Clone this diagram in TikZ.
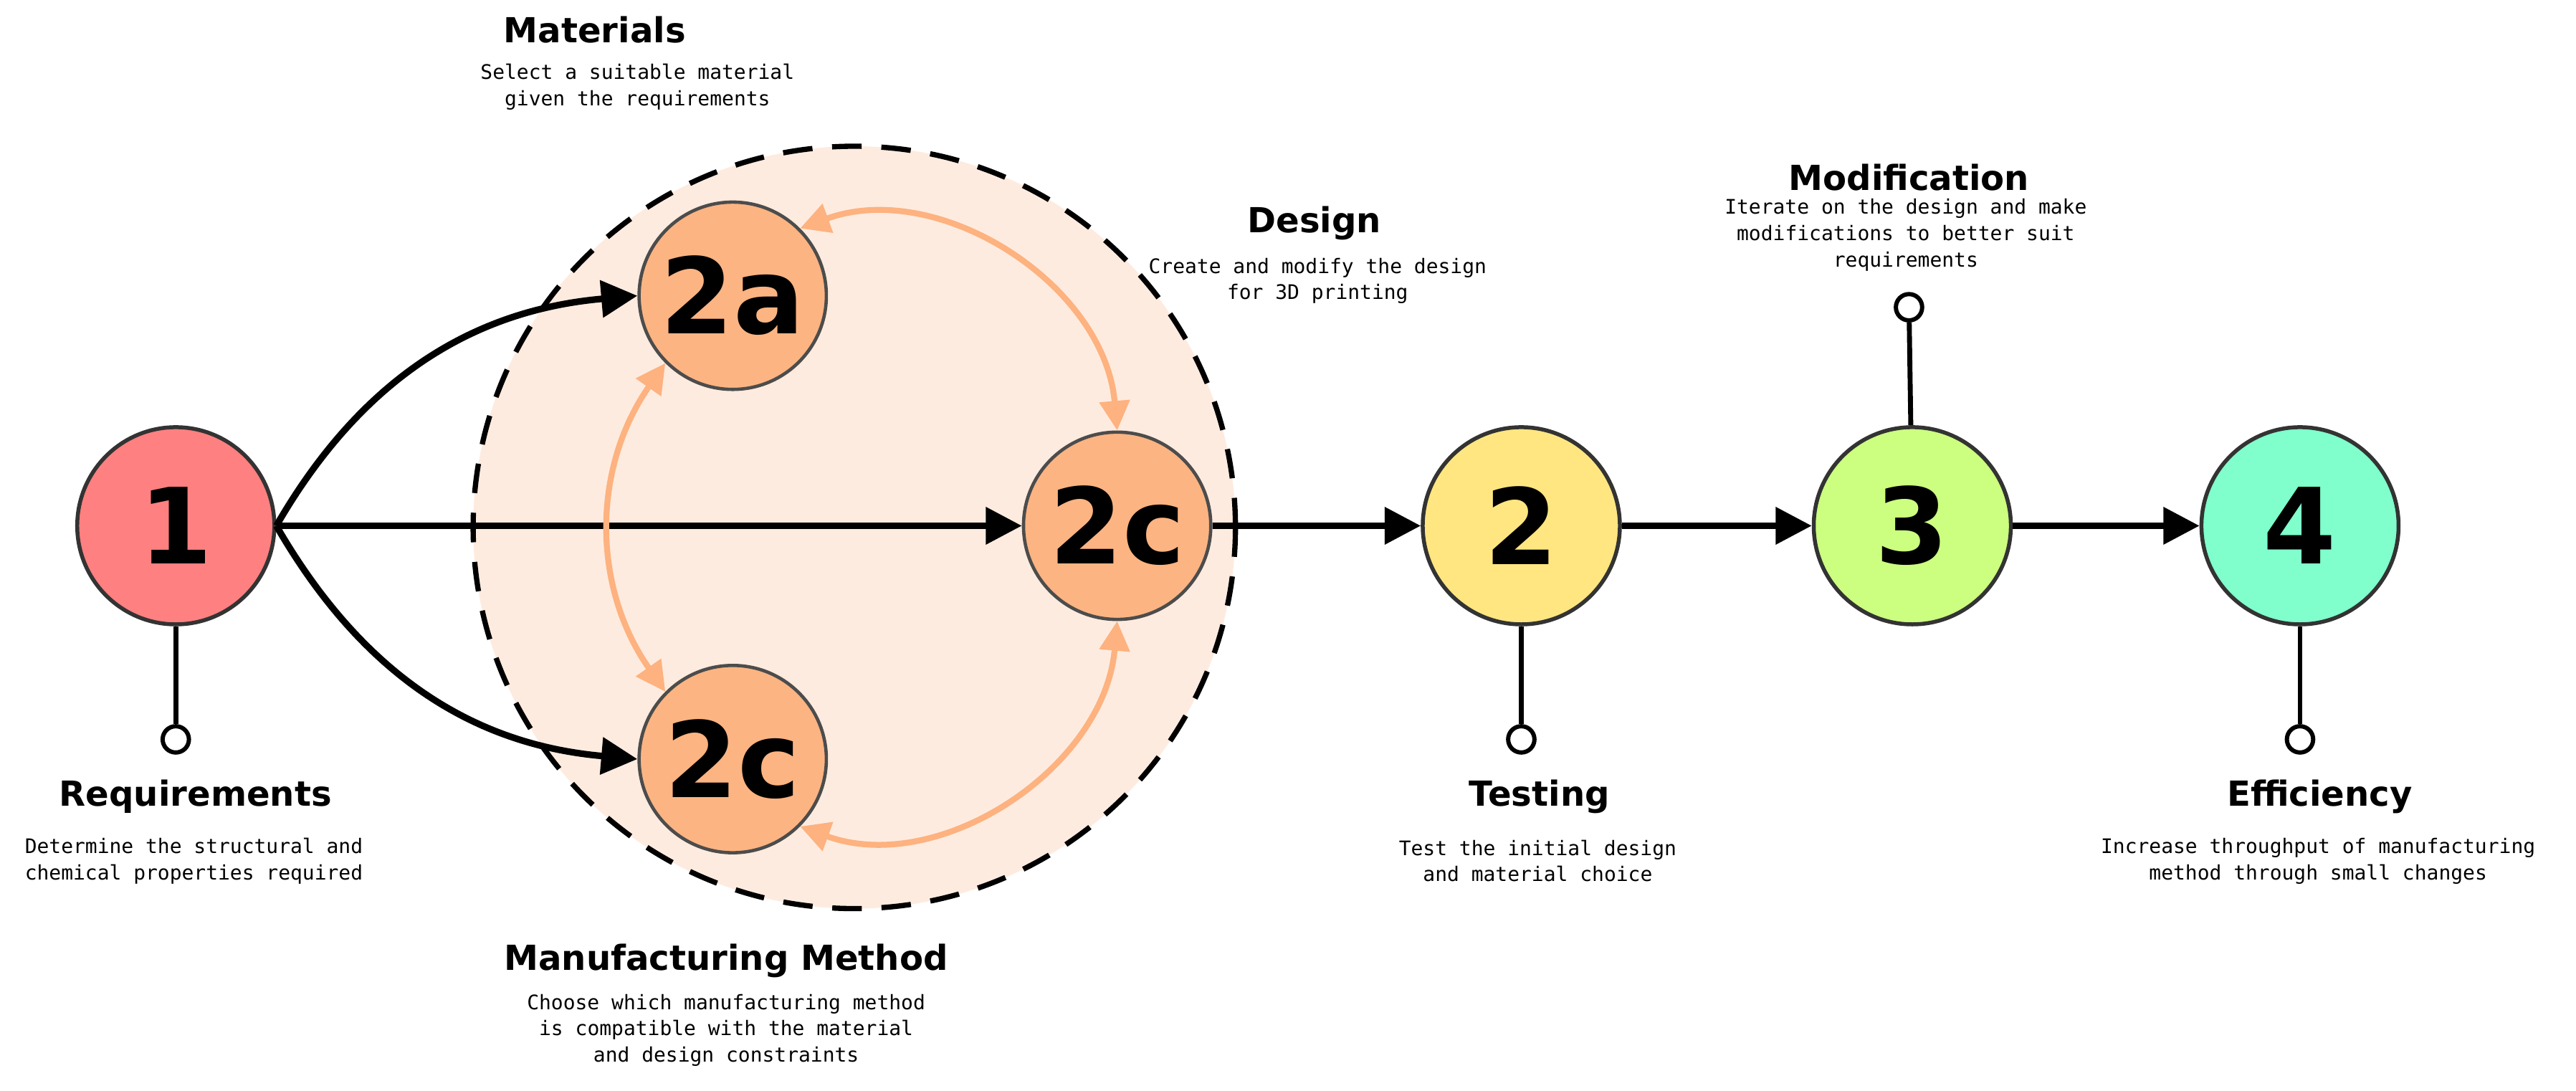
\documentclass[tikz,border=0pt]{standalone}
\usepackage{fontspec}
\setmainfont{DejaVu Sans}
\newfontfamily\descf{DejaVu Sans Mono}
\usetikzlibrary{arrows.meta}
\definecolor{pale}{HTML}{FEEBDF}
\definecolor{orng}{HTML}{FCB482}
\definecolor{larr}{HTML}{FDB27F}
\definecolor{cred}{HTML}{FF8080}
\definecolor{cyel}{HTML}{FFE680}
\definecolor{cgrn}{HTML}{CCFF80}
\definecolor{ccya}{HTML}{80FFCC}
\begin{document}
\begin{tikzpicture}[x=0.5pt,y=-0.5pt,
 num/.style={circle,draw=black!80,line width=1.2pt,minimum size=60pt,inner sep=0pt,font=\fontsize{32}{32}\selectfont\bfseries},
 sub/.style={num,draw=black!70,minimum size=57pt,fill=orng,line width=1pt},
 ttl/.style={font=\fontsize{10.5}{12}\selectfont\bfseries},
 dsc/.style={font=\descf\fontsize{6.1}{8}\selectfont,align=center},
 big/.style={line width=2pt,-{Triangle[length=11pt,width=11pt]}},
 oa/.style={draw=larr,line width=1.8pt,{Triangle[length=9pt,width=9pt]}-{Triangle[length=9pt,width=9pt]}},
 stem/.style={line width=1.5pt},
 pin/.style={circle,draw,line width=1.3pt,fill=white,minimum size=8pt,inner sep=0pt}]
\useasboundingbox (0,0) rectangle (1568,663.6);
\node[circle,fill=pale,draw=black,line width=1.6pt,dash pattern=on 9pt off 6pt,minimum size=232pt] (big) at (520,321) {};
\node[sub] (a) at (446,180) {2a};
\node[sub] (c) at (680,320) {2c};
\node[sub] (b) at (446,462) {2c};
\node[num,fill=cred] (n1) at (107,320) {1};
\node[num,fill=cyel] (n2) at (926,320) {2};
\node[num,fill=cgrn] (n3) at (1164,320) {3};
\node[num,fill=ccya] (n4) at (1400,320) {4};
\draw[big] (n1.east) to[out=60,in=185] (a.west);
\draw[big] (n1.east) -- (c.west);
\draw[big] (n1.east) to[out=-60,in=175] (b.west);
\draw[big] (c.east) -- (n2.west);
\draw[big] (n2.east) -- (n3.west);
\draw[big] (n3.east) -- (n4.west);
\draw[oa] (a.north east) to[out=20,in=95] (c.north);
\draw[oa] (a.south west) to[out=235,in=125] (b.north west);
\draw[oa] (b.south east) to[out=-20,in=-95] (c.south);
\node[pin] (p1) at (107,450) {};
\node[pin] (p2) at (926,450) {};
\node[pin] (p3) at (1162,187) {};
\node[pin] (p4) at (1400,450) {};
\draw[stem] (n1) -- (p1); \draw[stem] (n2) -- (p2);
\draw[stem] (n3) -- (p3); \draw[stem] (n4) -- (p4);
\node[ttl] (t1) at (119,485) {Requirements};
\node[dsc] (d1) at (118,524) {Determine the structural and\\chemical properties required};
\node[ttl] (ta) at (362,18) {Materials};
\node[dsc] (da) at (388,53) {Select a suitable material\\given the requirements};
\node[ttl] (tc) at (800,136) {Design};
\node[dsc] (dc) at (802,171) {Create and modify the design\\for 3D printing};
\node[ttl] (t3) at (1162,108) {Modification};
\node[dsc] (d3) at (1160,143) {Iterate on the design and make\\modifications to better suit\\requirements};
\node[ttl] (t2) at (937,485) {Testing};
\node[dsc] (d2) at (936,524) {Test the initial design\\and material choice};
\node[ttl] (t4) at (1412,485) {Efficiency};
\node[dsc] (d4) at (1411,524) {Increase throughput of manufacturing\\method through small changes};
\node[ttl] (tb) at (442,585) {Manufacturing Method};
\node[dsc] (db) at (442,627) {Choose which manufacturing method\\is compatible with the material\\and design constraints};
\end{tikzpicture}
\end{document}
